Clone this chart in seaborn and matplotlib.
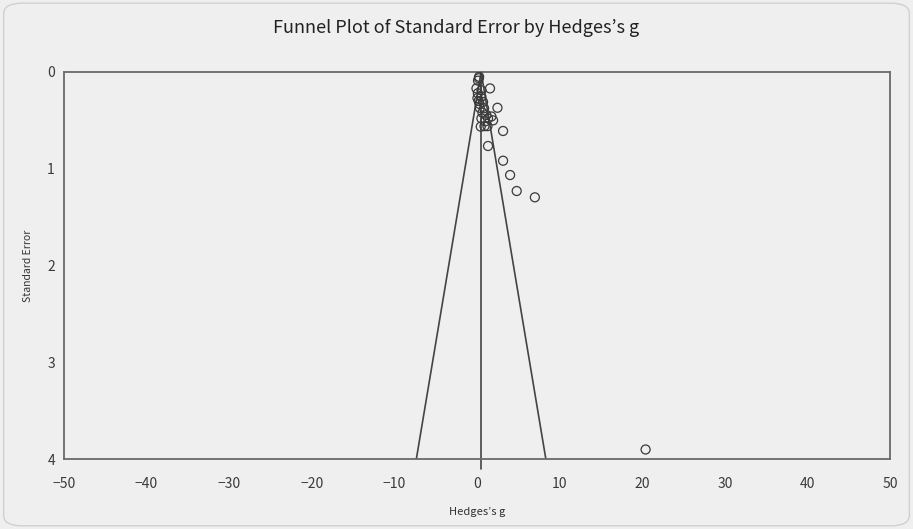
import numpy as np
import pandas as pd
import matplotlib
matplotlib.use('Agg')
import matplotlib.pyplot as plt
import seaborn as sns
from matplotlib.patches import FancyBboxPatch

# study effect sizes (Hedges's g) and standard errors
hedges_g = [0.21, 0.12, 0.25, 1.57, -0.07, 0.53, 0.05, 0.53, 0.20, 0.73,
            2.47, 0.85, 0.33, 1.13, 0.53, 1.33, 1.74, 1.00, 1.94, 0.45,
            1.26, 0.30, 3.15, 1.33, 3.15, 4.00, 4.80, 7.00, 20.4, 0.10,
            0.65, 0.90]
std_err = [0.065, 0.09, 0.05, 0.17, 0.17, 0.19, 0.27, 0.255, 0.30, 0.31,
           0.37, 0.375, 0.37, 0.445, 0.48, 0.48, 0.46, 0.51, 0.50, 0.565,
           0.56, 0.33, 0.61, 0.765, 0.917, 1.065, 1.23, 1.295, 3.90, 0.22,
           0.42, 0.56]
mean_g = 0.49
se_max = 4.0

df = pd.DataFrame({"g": hedges_g, "se": std_err})

sns.set_style("white")
plt.rcParams['font.family'] = ['Noto Sans CJK KR', 'DejaVu Sans']

bg = '#efefef'
fig = plt.figure(figsize=(9.13, 5.29), dpi=100, facecolor=bg)
frame = FancyBboxPatch((0.004, 0.006), 0.992, 0.988,
                       boxstyle="round,pad=0,rounding_size=0.02",
                       transform=fig.transFigure, facecolor=bg,
                       edgecolor='#d0d0d0', linewidth=1, zorder=-5)
fig.patches.append(frame)
ax = fig.add_axes([0.070, 0.132, 0.905, 0.732])
ax.set_facecolor(bg)
ax.set_zorder(1)

# funnel lines
ax.plot([mean_g, mean_g], [0, se_max + 0.1], color='#444444', lw=1.2, clip_on=False)
ax.plot([mean_g - 1.96 * se_max, mean_g, mean_g + 1.96 * se_max], [se_max, 0, se_max],
        color='#444444', lw=1.2)

sns.scatterplot(data=df, x="g", y="se", ax=ax, marker='o', s=42,
                facecolor='none', edgecolor='#3a3a3a', linewidth=0.9, zorder=3)

ax.set_xlim(-50, 50)
ax.set_ylim(4, 0)
ax.set_xticks(np.arange(-50, 51, 10))
ax.set_yticks(np.arange(0, 5, 1))
for s in ax.spines.values():
    s.set_color('#6a6a6a')
    s.set_linewidth(1.3)
ax.tick_params(direction='inout', length=5, width=1, color='#555555',
               labelsize=10, labelcolor='#3a3a3a')
ax.tick_params(axis='x', pad=10)
ax.tick_params(axis='y', pad=4)
ax.set_xlabel("Hedges\u2019s g", fontsize=8, color='#333333', labelpad=12)
ax.set_ylabel("Standard Error", fontsize=7.5, color='#333333', labelpad=10)
fig.text(0.5, 0.947, "Funnel Plot of Standard Error by Hedges\u2019s g",
         ha='center', va='center', fontsize=13, color='#222222')

fig.savefig("out.png", dpi=100, facecolor=bg)
